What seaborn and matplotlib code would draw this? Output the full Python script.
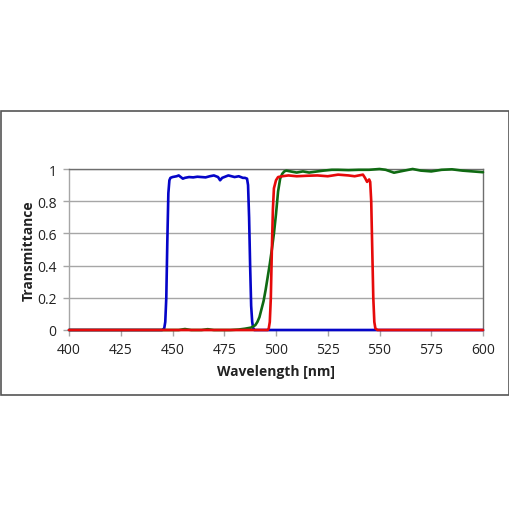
import matplotlib
matplotlib.use("Agg")
import matplotlib.pyplot as plt
import seaborn as sns
import pandas as pd
from matplotlib.patches import Rectangle

# ---- data ----
blue_wl = [400, 445, 446, 446.5, 447, 447.5, 448, 448.5, 449, 450, 452, 453, 455, 456, 458, 460, 462, 464,
           466, 468, 470, 472, 473, 474, 476, 477, 480, 482, 484, 485, 486, 486.5, 487, 487.5, 488, 488.5,
           489, 489.5, 490, 600]
blue_t = [0, 0, 0.01, 0.05, 0.2, 0.55, 0.85, 0.93, 0.945, 0.95, 0.955, 0.96, 0.94, 0.945, 0.95, 0.948,
          0.952, 0.95, 0.948, 0.955, 0.96, 0.95, 0.93, 0.945, 0.955, 0.96, 0.95, 0.955, 0.945, 0.945, 0.94,
          0.9, 0.7, 0.4, 0.15, 0.05, 0.01, 0, 0, 0]

green_wl = [400, 453, 456, 459, 464, 467, 470, 478, 482, 485, 488, 490, 491, 492, 493, 494, 495, 496, 497,
            498, 499, 500, 501, 502, 503, 504, 505, 507, 510, 513, 516, 520, 523, 527, 530, 535, 540, 545,
            550, 553, 557, 562, 566, 570, 575, 580, 585, 590, 595, 600]
green_t = [0, 0, 0.006, 0, 0, 0.005, 0, 0, 0.003, 0.008, 0.015, 0.03, 0.05, 0.08, 0.13, 0.18, 0.25, 0.33,
           0.41, 0.5, 0.6, 0.72, 0.86, 0.94, 0.97, 0.985, 0.99, 0.985, 0.978, 0.985, 0.978, 0.985, 0.99,
           0.995, 0.995, 0.993, 0.995, 0.995, 1.0, 0.995, 0.977, 0.99, 1.0, 0.99, 0.985, 0.995, 0.998, 0.99,
           0.985, 0.98]

red_wl = [400, 496, 496.5, 497, 497.5, 498, 498.5, 499, 500, 501, 503, 506, 510, 515, 520, 525, 530, 535,
          538, 540, 542, 543, 544, 545, 545.5, 546, 546.5, 547, 547.5, 548, 549, 600]
red_t = [0, 0, 0.01, 0.05, 0.2, 0.5, 0.75, 0.88, 0.93, 0.95, 0.955, 0.96, 0.955, 0.958, 0.96, 0.955,
         0.965, 0.96, 0.955, 0.96, 0.965, 0.945, 0.92, 0.935, 0.92, 0.8, 0.5, 0.2, 0.05, 0.01, 0, 0]

series_names = ["blue", "green", "red"]
series_colors = {"blue": "#0505C8", "green": "#0F6A12", "red": "#E60A0A"}

x_ticks = [400, 425, 450, 475, 500, 525, 550, 575, 600]
y_ticks = [0, 0.2, 0.4, 0.6, 0.8, 1]
y_tick_labels = ["0", "0.2", "0.4", "0.6", "0.8", "1"]

frames = []
for name, wl, t in [("blue", blue_wl, blue_t), ("green", green_wl, green_t), ("red", red_wl, red_t)]:
    frames.append(pd.DataFrame({"wl": wl, "T": t, "filter": name}))
df = pd.concat(frames, ignore_index=True)

# ---- plot ----
sns.set_theme(style="white")
plt.rcParams["font.family"] = ["Open Sans", "DejaVu Sans"]

fig = plt.figure(figsize=(5.1, 5.1), dpi=100)
ax = fig.add_axes([69 / 510, 1 - 331 / 510, (483 - 69) / 510, (331 - 170) / 510])

# outer frame
fig.patches.append(Rectangle((0.5 / 510, 1 - 396 / 510), 508.5 / 510, (396 - 112) / 510,
                             transform=fig.transFigure, fill=False, edgecolor="#555555",
                             linewidth=1.2, zorder=0))

ax.set_axisbelow(True)
ax.yaxis.grid(True, color="#A6A6A6", linewidth=1.0)
ax.xaxis.grid(False)

sns.lineplot(data=df, x="wl", y="T", hue="filter", hue_order=series_names,
             palette=series_colors, estimator=None, sort=False, legend=False,
             linewidth=1.9, ax=ax)
for ln in ax.lines:
    ln.set_clip_on(False)
    ln.set_zorder(3)

ax.set_xlim(400, 600)
ax.set_ylim(0, 1)
ax.set_xticks(x_ticks)
ax.set_xticklabels([str(v) for v in x_ticks])
ax.set_yticks(y_ticks)
ax.set_yticklabels(y_tick_labels)

for side in ["top", "right"]:
    ax.spines[side].set_visible(True)
    ax.spines[side].set_color("#6E6E6E")
    ax.spines[side].set_linewidth(1.0)
for side in ["left", "bottom"]:
    ax.spines[side].set_visible(True)
    ax.spines[side].set_color("#A6A6A6")
    ax.spines[side].set_linewidth(1.0)

ax.tick_params(axis="both", which="major", direction="out", length=4, width=1.0,
               color="#A6A6A6", labelsize=10, labelcolor="#222222", pad=5,
               bottom=True, left=True)

ax.set_xlabel("Wavelength [nm]", fontsize=10, fontweight="bold", color="#222222", labelpad=5)
ax.set_ylabel("Transmittance", fontsize=10, fontweight="bold", color="#222222", labelpad=1)

fig.savefig("out.png", dpi=100, facecolor="white")
